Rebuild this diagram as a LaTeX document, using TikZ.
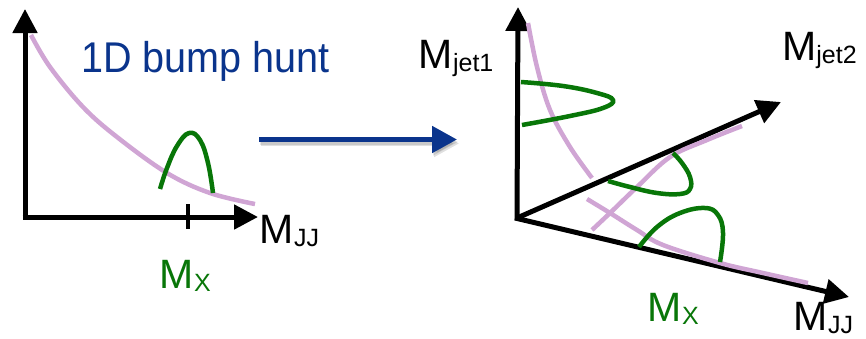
\documentclass[tikz,border=0pt]{standalone}
\usepackage{fontspec}
\setmainfont{Liberation Sans}
\usetikzlibrary{arrows.meta}
\definecolor{hblue}{RGB}{10,52,140}
\definecolor{hgreen}{RGB}{8,118,8}
\definecolor{hpink}{RGB}{208,165,212}
\newcommand{\bigM}[2]{{\fontsize{41}{41}\selectfont M}\raisebox{-3pt}{\fontsize{25}{25}\selectfont #1}}
\begin{document}
\begin{tikzpicture}[x=1pt,y=-1pt,
  axis/.style={line width=5pt,-{Triangle[length=24pt,width=24pt]}},
  bgcurve/.style={hpink,line width=4.5pt},
  sigcurve/.style={hgreen,line width=4.5pt},
  lbl/.style={inner sep=0pt,anchor=base west,font=\fontsize{40}{40}\selectfont}]
\useasboundingbox (0,0) rectangle (866,338);
% ---------- left plot ----------
\coordinate (lo) at (25,217);
\coordinate (ly) at (25,9);
\coordinate (lx) at (258,217);
\draw[axis] ([yshift=-2.5pt]lo) -- (ly);
\draw[axis] ([xshift=-2.5pt]lo) -- (lx);
\coordinate (tk1) at (188,204);
\coordinate (tk2) at (188,229);
\draw[line width=4pt] (tk1) -- (tk2);
\draw[bgcurve] plot[smooth,tension=0.6] coordinates {(31,35) (50,67) (83,107) (117,137) (167,173) (210,193) (255,204)};
\draw[sigcurve] plot[smooth,tension=0.7] coordinates {(160,189) (167,168) (177,146) (189,133) (200,140) (208,163) (213,193)};
\node[lbl,text=hblue] (title) at (81,72.7) {\fontsize{43}{43}\selectfont\scalebox{0.92}[1]{1D bump hunt}};
\node[lbl] (lmjj) at (259.7,243.3) {\bigM{JJ}{}};
\node[lbl,text=hgreen] (lmx) at (159.7,288) {\bigM{X}{}};
% ---------- blue arrow ----------
\coordinate (ba) at (259,139.5);
\coordinate (bb) at (457,139.5);
\draw[line width=5pt,black,opacity=0.12,-{Triangle[length=25pt,width=26pt]}] ([xshift=2pt,yshift=-4pt]ba) -- ([xshift=2pt,yshift=-4pt]bb);
\draw[line width=5pt,black,opacity=0.10,-{Triangle[length=25pt,width=26pt]}] ([xshift=1pt,yshift=-2.5pt]ba) -- ([xshift=1pt,yshift=-2.5pt]bb);
\draw[line width=5pt,hblue,-{Triangle[length=25pt,width=26pt]}] (ba) -- (bb);
% ---------- right plot ----------
\coordinate (ro) at (517,218);
\coordinate (rz) at (518,7);
\coordinate (rj2) at (781,102);
\coordinate (rjj) at (849,297);
\draw[axis] ([yshift=-2pt]ro) -- (rz);
\draw[axis] (ro) -- (rj2);
\draw[axis] ([xshift=-2pt]ro) -- (rjj);
\draw[bgcurve] plot[smooth,tension=0.6] coordinates {(528,23) (537,67) (550,110) (570,147) (592,178)};
\draw[bgcurve] plot[smooth,tension=0.6] coordinates {(587,199) (610,213) (637,230) (663,245) (720,263) (763,273) (808,283)};
\draw[bgcurve] plot[smooth,tension=0.6] coordinates {(592,230) (610,213) (637,187) (670,157) (707,140) (742,126)};
\draw[sigcurve] plot[smooth,tension=0.7] coordinates {(521,82) (563,86) (597,93) (613,100) (603,108) (570,116) (522,125)};
\draw[sigcurve] plot[smooth,tension=0.7] coordinates {(608,181) (630,187) (657,193) (680,194) (690,189) (690,177) (682,163) (673,153)};
\draw[sigcurve] plot[smooth,tension=0.7] coordinates {(639,247) (657,227) (680,213) (705,208) (718,215) (723,233) (720,262)};
\node[lbl] (rmj1) at (418.7,68.3) {\bigM{jet1}{}};
\node[lbl] (rmj2) at (782,60.7) {\bigM{jet2}{}};
\node[lbl,text=hgreen] (rmx) at (647.7,321.7) {\bigM{X}{}};
\node[lbl] (rmjj) at (793.7,330) {\bigM{JJ}{}};
\end{tikzpicture}
\end{document}
